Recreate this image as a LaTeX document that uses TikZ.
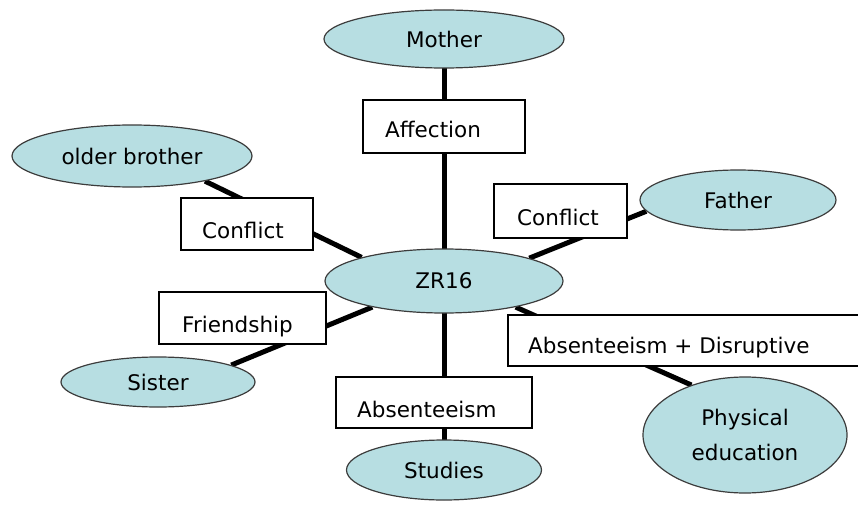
\documentclass[tikz,border=0pt]{standalone}
\usepackage{fontspec}
\setmainfont{DejaVu Sans}
\usetikzlibrary{shapes.geometric,backgrounds}
\definecolor{bubble}{RGB}{183,222,226}
\definecolor{rim}{RGB}{60,60,60}
\begin{document}
\begin{tikzpicture}[x=1pt,y=-1pt,
  every node/.style={font=\fontsize{21.5}{35}\selectfont, inner sep=0pt},
  topic/.style={ellipse, draw=rim, line width=1.2pt, fill=bubble, align=center},
  tag/.style={rectangle, draw=black, line width=1.2pt, fill=white},
  tagtext/.style={anchor=base west},
  link/.style={line width=5pt}]
\useasboundingbox (0,0) rectangle (858,505);
\clip (0,0) rectangle (858,505);

% people and subjects around the pupil
\node[topic, minimum width=238pt, minimum height=64pt] (zr) at (444,281) {ZR16};
\node[topic, minimum width=240pt, minimum height=58pt] (mo) at (444,39) {Mother};
\node[topic, minimum width=240pt, minimum height=62pt] (ob) at (132,156) {older brother};
\node[topic, minimum width=196pt, minimum height=60pt] (fa) at (738,200) {Father};
\node[topic, minimum width=194pt, minimum height=50pt] (si) at (158,382) {Sister};
\node[topic, minimum width=195pt, minimum height=60pt] (st) at (444,470) {Studies};
\node[topic, minimum width=204pt, minimum height=116pt] (pe) at (745,435) {Physical\\education};

% relation labels
\node[tag, minimum width=162pt, minimum height=53pt] (aff) at (444,126.5) {};
\node[tagtext] (afft) at (385,138) {Affection};
\node[tag, minimum width=132pt, minimum height=52pt] (cl) at (247,224) {};
\node[tagtext] (clt) at (202,238) {Conflict};
\node[tag, minimum width=133pt, minimum height=54pt] (cr) at (560.5,211) {};
\node[tagtext] (crt) at (517,225) {Conflict};
\node[tag, minimum width=167pt, minimum height=52pt] (fr) at (242.5,318) {};
\node[tagtext] (frt) at (182,332) {Friendship};
\node[tag, minimum width=196pt, minimum height=51pt] (ab) at (434,402.5) {};
\node[tagtext] (abt) at (357,417) {Absenteeism};
\node[tag, minimum width=372pt, minimum height=51pt] (ad) at (694,340.5) {};
\node[tagtext] (adt) at (528,353) {Absenteeism + Disruptive};

% connectors behind everything
\begin{scope}[on background layer]
  \draw[link] (mo.center) -- (zr.center);
  \draw[link] (zr.center) -- (st.center);
  \draw[link] (ob.-19) -- (zr.164);
  \draw[link] (zr.15) -- (fa.187.5);
  \draw[link] (si.13) -- (zr.200.8);
  \draw[link] (zr.-20.3) -- (pe.137.7);
\end{scope}
\end{tikzpicture}
\end{document}
